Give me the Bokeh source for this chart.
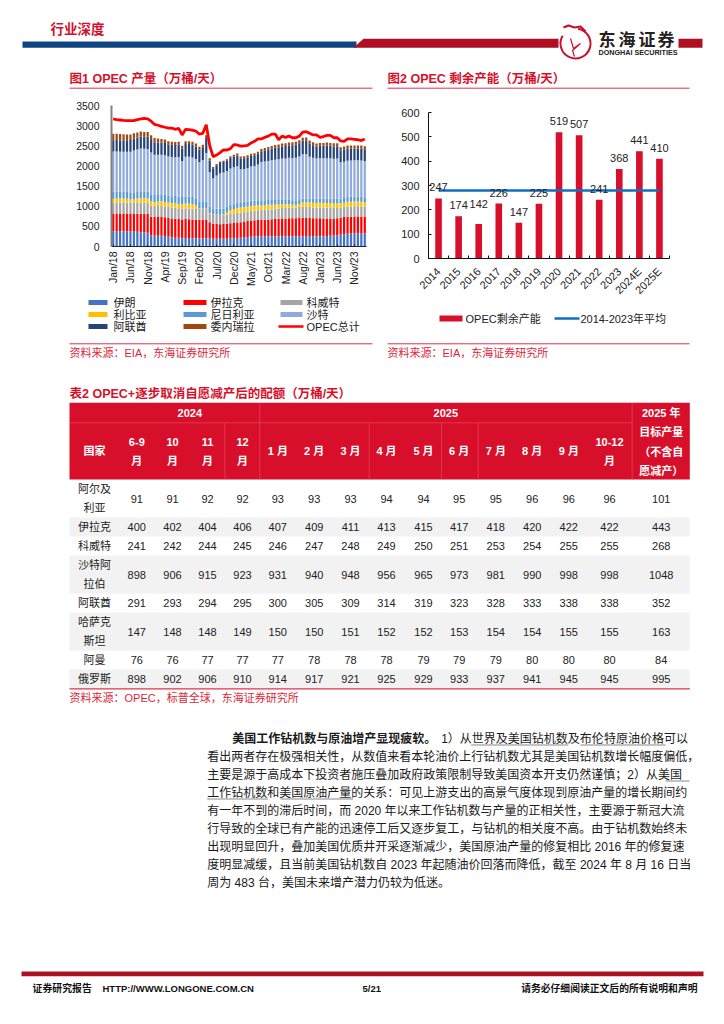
from math import pi
from bokeh.plotting import figure
from bokeh.layouts import column, row
from bokeh.models import Range1d, FixedTicker, ColumnDataSource
from bokeh.core.properties import value
from bokeh.embed import file_html
from bokeh.resources import INLINE

# ---------- chart 1 data (万桶/天) ----------
iran = [380,380,380,380,380,375,370,365,355,345,340,275,
        270,265,265,260,240,225,220,215,205,210,210,205,
        205,205,205,205,200,195,190,190,195,195,200,205,
        210,215,225,235,245,250,250,255,255,255,255,255,
        255,255,255,255,255,255,255,255,260,260,255,255,
        255,255,260,265,270,280,290,305,315,320,325,330,
        330,330]
iraq = [440,440,440,440,440,445,450,450,460,465,465,465,
        470,470,470,465,470,470,470,470,465,470,465,465,
        460,460,460,450,400,370,370,365,365,370,375,380,
        385,390,390,395,400,400,405,405,410,415,420,425,
        435,440,440,445,445,445,450,450,445,445,445,445,
        445,440,435,430,425,420,415,425,425,420,420,415,
        415,415]
kuwait = [270,270,270,270,270,270,275,280,280,280,280,280,
          270,270,270,270,270,270,270,265,270,270,270,270,
          265,265,270,280,220,220,220,225,230,230,230,230,
          235,235,235,235,240,240,245,245,250,250,250,255,
          255,260,260,265,265,270,275,280,280,275,270,265,
          270,270,270,270,260,255,255,255,255,255,255,255,
          250,250]
libya = [95,100,100,100,95,75,70,95,105,105,105,105,
         95,115,115,110,110,110,115,105,110,115,115,115,
         85,15,10,10,10,10,10,10,15,50,90,115,
         125,125,125,125,120,120,120,115,115,115,110,100,
         95,100,95,85,70,65,70,110,115,115,115,115,
         115,115,115,115,110,115,115,100,115,115,115,115,
         115,100]
nigeria = [175,170,170,170,165,160,160,165,170,170,170,170,
           175,175,175,180,175,175,180,185,180,175,175,175,
           180,180,180,175,165,150,145,145,140,140,140,135,
           135,135,135,130,130,130,125,125,120,120,120,120,
           115,115,115,110,110,110,105,95,95,95,100,105,
           105,110,110,110,115,115,115,120,120,125,125,125,
           125,125]
saudi = [1000,1000,990,990,1000,1030,1060,1050,1060,1060,1060,1040,
         1000,980,980,980,970,970,960,980,890,990,990,980,
         980,970,1020,1200,850,750,830,880,890,890,900,900,
         900,820,815,830,850,860,890,950,960,970,985,1000,
         1010,1015,1020,1040,1050,1060,1080,1100,1100,1040,1020,1000,
         1000,1000,1000,1000,1000,1000,900,900,900,900,900,900,
         900,900]
uae = [280,285,290,290,290,290,295,300,300,300,310,310,
       305,305,305,305,305,305,305,310,310,315,320,320,
       310,310,320,380,290,250,250,260,260,260,265,270,
       270,265,265,265,265,265,270,270,280,285,290,295,
       300,300,310,310,320,325,330,340,340,330,310,300,
       310,310,320,310,305,305,300,300,300,300,295,295,
       295,295]
venezuela = [160,155,150,145,140,135,130,125,125,120,115,115,
             110,100,90,85,75,75,75,70,70,70,70,70,
             70,70,60,60,55,30,30,35,35,30,40,45,
             50,50,50,50,50,50,50,55,55,60,65,70,
             70,70,70,70,70,70,70,70,70,70,70,70,
             70,70,70,70,75,75,75,75,75,75,75,75,
             75,75]
opec_total = [3170,3150,3140,3130,3125,3125,3125,3150,3170,3180,3170,3110,
              3030,3010,2980,2960,2940,2940,2910,2930,2770,2910,2900,2890,
              2860,2790,2810,3020,2500,2230,2270,2330,2400,2395,2430,2530,
              2520,2490,2500,2510,2570,2610,2670,2670,2710,2740,2790,2790,
              2650,2740,2710,2740,2700,2700,2740,2840,2850,2810,2770,2770,
              2710,2730,2760,2760,2700,2700,2620,2610,2670,2670,2660,2650,
              2630,2670]
month_positions = [0,5,10,15,20,25,30,35,40,45,50,55,60,65,70]
month_labels = ["Jan/18","Jun/18","Nov/18","Apr/19","Sep/19","Feb/20","Jul/20","Dec/20",
                "May/21","Oct/21","Mar/22","Aug/22","Jan/23","Jun/23","Nov/23"]
series_names = ["伊朗","伊拉克","科威特","利比亚","尼日利亚","沙特","阿联酋","委内瑞拉"]
series_values = [iran, iraq, kuwait, libya, nigeria, saudi, uae, venezuela]
series_colors = ["#4472C4","#FF0000","#A5A5A5","#FFC000","#5B9BD5","#8FAADC","#264478","#9E480E"]

# ---------- chart 2 data ----------
years = ["2014","2015","2016","2017","2018","2019","2020","2021","2022","2023","2024E","2025E"]
spare = [247,174,142,226,147,225,519,507,241,368,441,410]
spare_avg = [279.6]*12

# ---------- table data ----------
countries = [["阿尔及","利亚"],["伊拉克"],["科威特"],["沙特阿","拉伯"],["阿联酋"],["哈萨克","斯坦"],["阿曼"],["俄罗斯"]]
algeria = [91,91,92,92,93,93,93,94,94,95,95,96,96,96,101]
iraq_q = [400,402,404,406,407,409,411,413,415,417,418,420,422,422,443]
kuwait_q = [241,242,244,245,246,247,248,249,250,251,253,254,255,255,268]
saudi_q = [898,906,915,923,931,940,948,956,965,973,981,990,998,998,1048]
uae_q = [291,293,294,295,300,305,309,314,319,323,328,333,338,338,352]
kazakh_q = [147,148,148,149,150,150,151,152,152,153,154,154,155,155,163]
oman_q = [76,76,77,77,77,78,78,78,79,79,79,80,80,80,84]
russia_q = [898,902,906,910,914,917,921,925,929,933,937,941,945,945,995]
quota_rows = [algeria, iraq_q, kuwait_q, saudi_q, uae_q, kazakh_q, oman_q, russia_q]
month_heads = [["6-9","月"],["10","月"],["11","月"],["12","月"],["1 月"],["2 月"],["3 月"],["4 月"],["5 月"],
               ["6 月"],["7 月"],["8 月"],["9 月"],["10-12","月"]]

# ---------- page text ----------
body_lines = ["看出两者存在极强相关性，从数值来看本轮油价上行钻机数尤其是美国钻机数增长幅度偏低，",
              "主要是源于高成本下投资者施压叠加政府政策限制导致美国资本开支仍然谨慎；2）从美国",
              "工作钻机数和美国原油产量的关系：可见上游支出的高景气度体现到原油产量的增长期间约",
              "有一年不到的滞后时间，而 2020 年以来工作钻机数与产量的正相关性，主要源于新冠大流",
              "行导致的全球已有产能的迅速停工后又逐步复工，与钻机的相关度不高。由于钻机数始终未",
              "出现明显回升，叠加美国优质井开采逐渐减少，美国原油产量的修复相比 2016 年的修复速",
              "度明显减缓，且当前美国钻机数自 2023 年起随油价回落而降低，截至 2024 年 8 月 16 日当",
              "周为 483 台，美国未来增产潜力仍较为低迷。"]

FONT = "'Liberation Sans', 'Noto Sans CJK SC'"
RED = "#D80F2A"
DARK = "#222222"
PW = 720

def canvas(y0, y1, x0=0, x1=PW):
    p = figure(width=x1 - x0, height=y1 - y0, x_range=Range1d(x0, x1), y_range=Range1d(y1, y0),
               x_axis_type=None, y_axis_type=None, toolbar_location=None, output_backend="svg",
               min_border=0, min_border_left=0, min_border_right=0, min_border_top=0, min_border_bottom=0,
               outline_line_color=None, frame_align=False)
    p.grid.visible = False
    return p

def txt(p, x, y, s, size=11, color=DARK, bold=False, align="left"):
    p.text(x=[x], y=[y], text=[s], text_font=value(FONT), text_font_size=f"{size}px",
           text_color=color, text_align=align, text_baseline="middle",
           text_font_style="bold" if bold else "normal")

def box(p, x0, x1, y0, y1, color):
    p.quad(left=[x0], right=[x1], top=[y0], bottom=[y1], fill_color=color, line_color=None)

def hline(p, x0, x1, y, color, w=1.0):
    p.line([x0, x1], [y, y], line_color=color, line_width=w)

# ---------- top strip ----------
top = canvas(0, 96)
txt(top, 50, 29, "行业深度", 13.5, RED, True)
top.patch([22, 356, 356, 22], [41, 41, 47.3, 47.3], fill_color="#0F4483", line_color=None)
top.patch([363, 558, 558, 353], [38.3, 38.3, 47.3, 47.3], fill_color="#AE0F22", line_color=None)
box(top, 678, 702, 38.3, 47.3, "#AE0F22")
top.arc(x=[575], y=[43], radius=15, start_angle=2.6, end_angle=1.4, line_color="#C8102E", line_width=2)
top.line([563, 568, 574, 580, 585], [27, 25, 27, 26, 31], line_color="#C8102E", line_width=2.2)
top.line([570, 573, 580, 572, 574], [38, 48, 43, 50, 56], line_color="#C8102E", line_width=1.2)
top.text(x=[598, 618, 638, 657], y=[38]*4, text=["东", "海", "证", "券"], text_font=value("Noto Sans CJK SC"),
         text_font_size="17px", text_font_style="bold", text_color="#222222", text_baseline="middle")
txt(top, 598, 52, "DONGHAI SECURITIES", 7.2, "#222222", True)
txt(top, 69, 78, "图1  OPEC 产量（万桶/天）", 12.5, RED, True)
txt(top, 387, 78, "图2  OPEC 剩余产能（万桶/天）", 12.5, RED, True)
hline(top, 69, 372, 87.7, "#E0304A")
hline(top, 387, 689, 87.7, "#E0304A")

# ---------- chart 1 ----------
n = len(iran)
data = {"x": list(range(n))}
for name, vals in zip(series_names, series_values):
    data[name] = vals
c1 = figure(width=380, height=200, x_range=Range1d(-0.5, n - 0.5), y_range=Range1d(0, 3500),
            toolbar_location=None, output_backend="svg", outline_line_color=None, frame_align=False,
            min_border_left=111, min_border_right=14, min_border_top=9, min_border_bottom=50)
c1.vbar_stack(series_names, x="x", width=0.64, fill_color=series_colors, line_color=None,
              source=ColumnDataSource(data))
c1.line(list(range(n)), opec_total, line_color="#FF0000", line_width=2.8)
c1.grid.visible = False
c1.xaxis.ticker = FixedTicker(ticks=month_positions)
c1.xaxis.major_label_overrides = dict(zip(month_positions, month_labels))
c1.xaxis.major_label_orientation = pi / 2
c1.xaxis.major_label_standoff = 5
c1.xaxis.major_tick_in = 2
c1.xaxis.major_tick_out = 0
c1.xaxis.minor_tick_line_color = None
c1.xaxis.axis_line_color = "#222222"
c1.xaxis.major_tick_line_color = "#222222"
c1.yaxis.ticker = FixedTicker(ticks=[0,500,1000,1500,2000,2500,3000,3500])
c1.yaxis.major_tick_line_color = None
c1.yaxis.minor_tick_line_color = None
c1.yaxis.axis_line_color = "#808080"
c1.yaxis.axis_line_width = 2
c1.yaxis.major_label_standoff = 6
for ax in (c1.xaxis, c1.yaxis):
    ax.major_label_text_font = "Liberation Sans"
    ax.major_label_text_font_size = "10.5px"
    ax.major_label_text_color = DARK

# ---------- chart 2 ----------
centers = [i + 0.5 for i in range(12)]
c2 = figure(width=340, height=216, x_range=Range1d(0, 12), y_range=Range1d(0, 600),
            toolbar_location=None, output_backend="svg", outline_line_color=None, frame_align=False,
            min_border_left=48, min_border_right=51, min_border_top=16, min_border_bottom=54)
c2.vbar(x=centers, top=spare, width=0.33, fill_color="#D80F2A", line_color=None)
c2.line(centers, spare_avg, line_color="#0F6FC6", line_width=2.6)
offs = [-11]*12
offs[2] = -20
c2.text(x=centers, y=spare, text=[str(v) for v in spare], y_offset=offs, text_font=value("Liberation Sans"),
        text_font_size="11px", text_color=DARK, text_align="center", text_baseline="middle")
c2.grid.visible = False
c2.xaxis.ticker = FixedTicker(ticks=centers, minor_ticks=list(range(13)))
c2.xaxis.major_label_overrides = dict(zip(centers, years))
c2.xaxis.major_label_orientation = pi / 4
c2.xaxis.major_label_standoff = 5
c2.xaxis.major_tick_line_color = None
c2.xaxis.minor_tick_in = 3
c2.xaxis.minor_tick_out = 0
c2.xaxis.minor_tick_line_color = "#111111"
c2.xaxis.axis_line_color = "#111111"
c2.yaxis.ticker = FixedTicker(ticks=[0,100,200,300,400,500,600])
c2.yaxis.major_tick_in = 3
c2.yaxis.major_tick_out = 0
c2.yaxis.major_tick_line_color = "#111111"
c2.yaxis.minor_tick_line_color = None
c2.yaxis.axis_line_color = "#111111"
c2.yaxis.major_label_standoff = 9
for ax in (c2.xaxis, c2.yaxis):
    ax.major_label_text_font = "Liberation Sans"
    ax.major_label_text_font_size = "11px"
    ax.major_label_text_color = DARK

# ---------- legends ----------
leg1 = canvas(296, 335, 0, 380)
leg_cols = [(88, 107, 113), (183, 206, 210), (280, 302, 306)]
leg_rows = [302, 314, 326]
for i, (name, col) in enumerate(zip(series_names, series_colors)):
    c = leg_cols[i % 3]
    yy = leg_rows[i // 3]
    box(leg1, c[0], c[1], yy - 2.5, yy + 2.5, col)
    txt(leg1, c[2], yy, name, 11)
hline(leg1, 278, 303, 326, "#FF0000", 2.6)
txt(leg1, 306, 326, "OPEC总计", 11)

leg2 = canvas(312, 335, 380, 720)
box(leg2, 439, 462, 315, 321, "#D80F2A")
txt(leg2, 465, 318, "OPEC剩余产能", 11)
hline(leg2, 554, 579, 318, "#0F6FC6", 2.6)
txt(leg2, 580, 318, "2014-2023年平均", 11)

# ---------- lower strip ----------
low = canvas(335, 1020)
for x0, x1, tx in [(69, 372, 69), (387, 689, 387)]:
    hline(low, x0, x1, 343.3, "#E0304A")
    txt(low, tx, 352.5, "资料来源：EIA，东海证券研究所", 11, "#DC1F38")

# table
txt(low, 69, 393.3, "表2  OPEC+逐步取消自愿减产后的配额（万桶/天）", 12.5, RED, True)
col_x = [136.3,172,207,242,277.3,313.7,350,386,423,458.7,495.3,531.7,568.3,609,660.7]
row_edges = [479,517,536,555,593,612,650,669,688.3]
TL, TR = 69, 689.3
box(low, TL, TR, 402.3, 479, RED)
for i in range(1, 8, 2):
    box(low, TL, TR, row_edges[i], row_edges[i + 1], "#F2F2F2")
hline(low, TL, TR, 688.3, "#E0304A", 1.2)
sep = "#E8506A"
hline(low, 69, 631.7, 422.3, sep, 0.6)
for xs, y0 in [(259.3, 402.3), (631.7, 402.3), (224.3, 422.3), (368.7, 422.3), (441, 422.3), (477.7, 422.3)]:
    low.line([xs, xs], [y0, 479], line_color=sep, line_width=0.6)
WH = "#FFFFFF"
txt(low, 189.3, 412.7, "2024", 11, WH, True, "center")
txt(low, 445.3, 412.7, "2025", 11, WH, True, "center")
for yy, s in zip([412.7, 431.7, 451, 470], ["2025 年", "目标产量", "（不含自", "愿减产）"]):
    txt(low, 660.7, yy, s, 11, WH, True, "center")
txt(low, 94, 450.7, "国家", 11, WH, True, "center")
for x, head in zip(col_x, month_heads):
    if len(head) == 1:
        txt(low, x, 450.7, head[0], 11, WH, True, "center")
    else:
        txt(low, x, 441, head[0], 11, WH, True, "center")
        txt(low, x, 460, head[1], 11, WH, True, "center")
for r, (name, vals) in enumerate(zip(countries, quota_rows)):
    cy = (row_edges[r] + row_edges[r + 1]) / 2
    if len(name) == 2:
        txt(low, 94, cy - 9.7, name[0], 11, DARK, False, "center")
        txt(low, 94, cy + 9.5, name[1], 11, DARK, False, "center")
    else:
        txt(low, 94, cy, name[0], 11, DARK, False, "center")
    low.text(x=col_x, y=[cy] * len(col_x), text=[str(v) for v in vals], text_font=value("Liberation Sans"),
             text_font_size="11px", text_color=DARK, text_align="center", text_baseline="middle")
txt(low, 69, 697.5, "资料来源：OPEC，标普全球，东海证券研究所", 11, "#DC1F38")

# body text
BODY = "#1A1A1A"
txt(low, 231.7, 738.3, "美国工作钻机数与原油增产显现疲软。", 12, BODY, True)
txt(low, 440.7, 738.3, "1）从世界及美国钻机数及布伦特原油价格可以", 12, BODY)
for yy, s in zip([756, 774, 792.3, 810, 828.3, 846.7, 864.7, 882.7], body_lines):
    txt(low, 206.7, yy, s, 12, BODY)
for x0, x1, yy in [(470.7, 567.7, 744.5), (580, 665, 744.5), (665, 689, 780.5), (206.7, 267.7, 798.5), (280, 352.7, 798.5)]:
    hline(low, x0, x1, yy, "#555555", 0.7)

# footer
box(low, 21, 703, 971, 975.7, "#AE0F22")
txt(low, 32, 987.7, "证券研究报告", 9.9, "#111111", True)
txt(low, 102, 987.7, "HTTP://WWW.LONGONE.COM.CN", 9.5, "#111111", True)
txt(low, 362, 987.7, "5/21", 9.5, "#111111", True)
txt(low, 697, 987.7, "请务必仔细阅读正文后的所有说明和声明", 9.8, "#111111", True, "right")

page = column(top,
              row(column(c1, leg1, spacing=0), column(c2, leg2, spacing=0), spacing=0),
              low, spacing=0)
open("out.html", "w").write(file_html(page, INLINE))
